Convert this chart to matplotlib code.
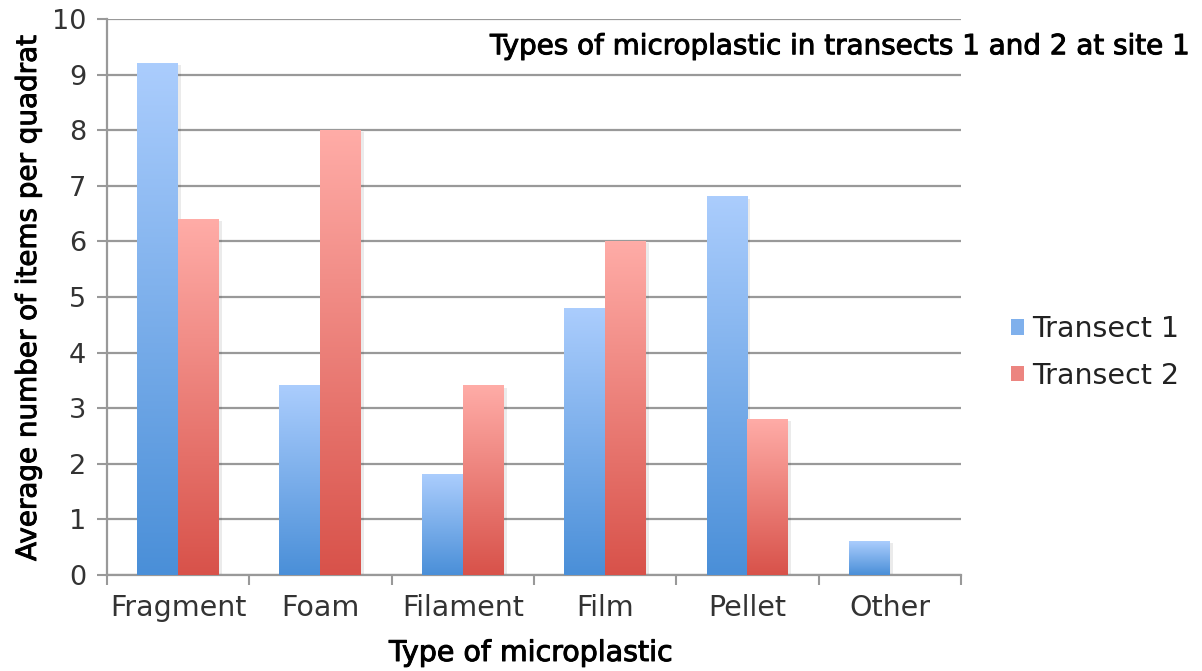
import matplotlib
matplotlib.use('Agg')
import matplotlib.pyplot as plt
import matplotlib.patheffects as pe
import numpy as np
from matplotlib.colors import LinearSegmentedColormap
from matplotlib.patches import Patch

categories = ['Fragment', 'Foam', 'Filament', 'Film', 'Pellet', 'Other']
transect1 = [9.2, 3.4, 1.8, 4.8, 6.8, 0.6]
transect2 = [6.4, 8.0, 3.4, 6.0, 2.8, 0.0]
series_names = ['Transect 1', 'Transect 2']

blue_cmap = LinearSegmentedColormap.from_list('b', ['#4a8fd8', '#abcdfd'])
red_cmap = LinearSegmentedColormap.from_list('r', ['#d8524a', '#ffaca7'])

plt.rcParams['font.family'] = ['DejaVu Sans']

fig = plt.figure(figsize=(12.02, 6.71), dpi=100)
ax = fig.add_axes([0.089, 0.143, 0.7105, 0.8287])

grad = np.linspace(0, 1, 256).reshape(-1, 1)
w = 0.288
x = np.arange(len(categories))
for vals, cmap, off in [(transect1, blue_cmap, -w / 2), (transect2, red_cmap, w / 2)]:
    for xi, v in zip(x, vals):
        if v <= 0:
            continue
        x0 = xi + off - w / 2
        # soft shadow
        ax.add_patch(plt.Rectangle((x0 + 0.02, 0), w, v - 0.03, color='#000000',
                                   alpha=0.08, zorder=2, lw=0))
        ax.imshow(grad, extent=[x0, x0 + w, 0, v], origin='lower', cmap=cmap,
                  aspect='auto', zorder=3)

ax.set_xlim(-0.5, len(categories) - 0.5)
ax.set_ylim(0, 10)
ax.set_yticks(range(0, 11))
ax.yaxis.grid(True, color='#999999', lw=1.6)
ax.set_axisbelow(True)
ax.set_xticks(x)
ax.set_xticklabels(categories, fontsize=20.5, color='#333333')
ax.tick_params(axis='x', length=0, pad=14)
ax.set_xticks(np.arange(-0.5, len(categories)), minor=True)
ax.tick_params(axis='x', which='minor', length=7, width=1.5, color='#999999')
ax.tick_params(axis='y', labelsize=19.5, labelcolor='#333333', length=7, width=1.5,
               color='#999999', pad=8)
for s in ['top', 'right']:
    ax.spines[s].set_visible(False)
for s in ['left', 'bottom']:
    ax.spines[s].set_color('#999999')
    ax.spines[s].set_linewidth(1.6)

bold = [pe.withStroke(linewidth=0.7, foreground='black')]
fig.text(531 / 1202, 1 - 653 / 671, 'Type of microplastic', fontsize=20.5,
         ha='center', va='center', path_effects=bold)
fig.text(28 / 1202, 1 - 298 / 671, 'Average number of items per quadrat', fontsize=20,
         ha='center', va='center', rotation=90, path_effects=bold)
ax.text(0.4485, 0.951, 'Types of microplastic in transects 1 and 2 at site 1',
        transform=ax.transAxes, fontsize=20, ha='left', va='center', zorder=5,
        path_effects=bold)

handles = [Patch(facecolor='#7fb0ec', edgecolor='none'),
           Patch(facecolor='#ec8580', edgecolor='none')]
fig.legend(handles, series_names, loc='center left', bbox_to_anchor=(0.82, 0.475),
           frameon=False, handlelength=0.45, handleheight=0.45,
           handletextpad=0.3, labelspacing=0.65, prop={'size': 20.5},
           labelcolor='#222222')

fig.savefig('out.png', dpi=100)
